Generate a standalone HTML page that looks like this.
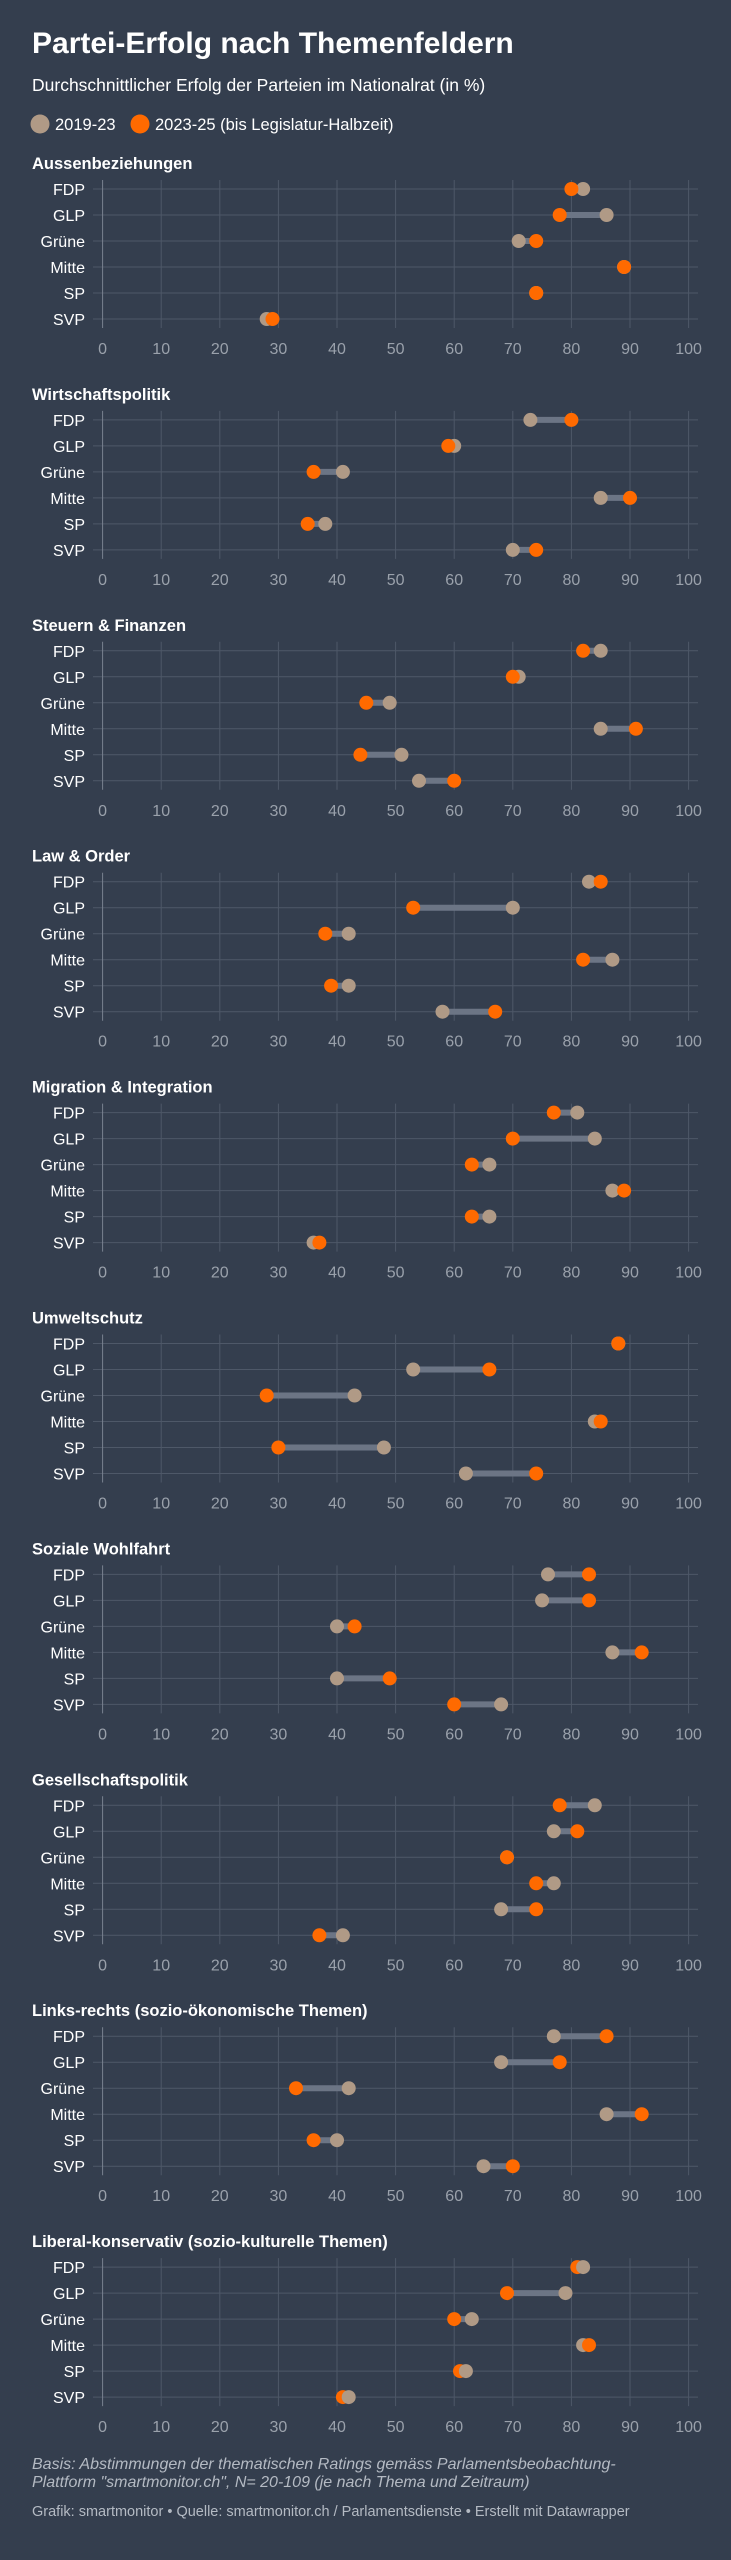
<!DOCTYPE html>
<html><head><meta charset="utf-8"><style>
html,body{margin:0;padding:0;background:#343e4e;}
svg{display:block;font-family:"Liberation Sans",sans-serif;}
.g{stroke:#4e5868;stroke-width:1}
.c{stroke:#6c7585;stroke-width:6}
.o{fill:#ff6a00}.t{fill:#b09a86}
.tl{fill:#fff;font-size:16.5px;font-weight:bold}
.rl{fill:#fff;font-size:16px;text-anchor:end}
.tk{fill:#9aa1ab;font-size:16px;text-anchor:middle}
</style></head><body>
<svg width="731" height="2560" viewBox="0 0 731 2560">
<rect width="731" height="2560" fill="#343e4e"/>
<text x="32" y="53" fill="#fff" font-size="30" font-weight="bold">Partei-Erfolg nach Themenfeldern</text>
<text x="32" y="91" fill="#fff" font-size="17.5">Durchschnittlicher Erfolg der Parteien im Nationalrat (in %)</text>
<circle cx="40" cy="124" r="9.5" class="t"/><text x="55" y="130" fill="#fff" font-size="16.5">2019-23</text>
<circle cx="140" cy="124" r="9.5" class="o"/><text x="155" y="130" fill="#fff" font-size="16.5">2023-25 (bis Legislatur-Halbzeit)</text>
<defs>
<g id="grid">
<line x1="93" x2="698" y1="26" y2="26" class="g"/><line x1="93" x2="698" y1="52" y2="52" class="g"/><line x1="93" x2="698" y1="78" y2="78" class="g"/><line x1="93" x2="698" y1="104" y2="104" class="g"/><line x1="93" x2="698" y1="130" y2="130" class="g"/><line x1="93" x2="698" y1="156" y2="156" class="g"/>
<line x1="102.6" x2="102.6" y1="17" y2="165" stroke="#7a8290"/>
<line x1="161.2" x2="161.2" y1="17" y2="165" class="g"/><line x1="219.8" x2="219.8" y1="17" y2="165" class="g"/><line x1="278.4" x2="278.4" y1="17" y2="165" class="g"/><line x1="337" x2="337" y1="17" y2="165" class="g"/><line x1="395.6" x2="395.6" y1="17" y2="165" class="g"/><line x1="454.2" x2="454.2" y1="17" y2="165" class="g"/><line x1="512.8" x2="512.8" y1="17" y2="165" class="g"/><line x1="571.4" x2="571.4" y1="17" y2="165" class="g"/><line x1="630" x2="630" y1="17" y2="165" class="g"/><line x1="688.6" x2="688.6" y1="17" y2="165" class="g"/>
</g>
</defs>

<g transform="translate(0,163)"><use href="#grid"/>
<text x="32" y="6" class="tl">Aussenbeziehungen</text>
<text x="85" y="32" class="rl">FDP</text><text x="85" y="58" class="rl">GLP</text><text x="85" y="84" class="rl">Grüne</text><text x="85" y="110" class="rl">Mitte</text><text x="85" y="136" class="rl">SP</text><text x="85" y="162" class="rl">SVP</text>
<text x="102.6" y="191" class="tk">0</text><text x="161.2" y="191" class="tk">10</text><text x="219.8" y="191" class="tk">20</text><text x="278.4" y="191" class="tk">30</text><text x="337" y="191" class="tk">40</text><text x="395.6" y="191" class="tk">50</text><text x="454.2" y="191" class="tk">60</text><text x="512.8" y="191" class="tk">70</text><text x="571.4" y="191" class="tk">80</text><text x="630" y="191" class="tk">90</text><text x="688.6" y="191" class="tk">100</text>
<line x1="571.4" x2="583.1" y1="26" y2="26" class="c"/><circle cx="583.1" cy="26" r="7" class="t"/><circle cx="571.4" cy="26" r="7" class="o"/>
<line x1="559.7" x2="606.6" y1="52" y2="52" class="c"/><circle cx="606.6" cy="52" r="7" class="t"/><circle cx="559.7" cy="52" r="7" class="o"/>
<line x1="518.7" x2="536.2" y1="78" y2="78" class="c"/><circle cx="518.7" cy="78" r="7" class="t"/><circle cx="536.2" cy="78" r="7" class="o"/>
<circle cx="624.1" cy="104" r="7" class="t"/><circle cx="624.1" cy="104" r="7" class="o"/>
<circle cx="536.2" cy="130" r="7" class="t"/><circle cx="536.2" cy="130" r="7" class="o"/>
<circle cx="266.7" cy="156" r="7" class="t"/><circle cx="272.5" cy="156" r="7" class="o"/>
</g>

<g transform="translate(0,393.9)"><use href="#grid"/>
<text x="32" y="6" class="tl">Wirtschaftspolitik</text>
<text x="85" y="32" class="rl">FDP</text><text x="85" y="58" class="rl">GLP</text><text x="85" y="84" class="rl">Grüne</text><text x="85" y="110" class="rl">Mitte</text><text x="85" y="136" class="rl">SP</text><text x="85" y="162" class="rl">SVP</text>
<text x="102.6" y="191" class="tk">0</text><text x="161.2" y="191" class="tk">10</text><text x="219.8" y="191" class="tk">20</text><text x="278.4" y="191" class="tk">30</text><text x="337" y="191" class="tk">40</text><text x="395.6" y="191" class="tk">50</text><text x="454.2" y="191" class="tk">60</text><text x="512.8" y="191" class="tk">70</text><text x="571.4" y="191" class="tk">80</text><text x="630" y="191" class="tk">90</text><text x="688.6" y="191" class="tk">100</text>
<line x1="530.4" x2="571.4" y1="26" y2="26" class="c"/><circle cx="530.4" cy="26" r="7" class="t"/><circle cx="571.4" cy="26" r="7" class="o"/>
<circle cx="454.2" cy="52" r="7" class="t"/><circle cx="448.3" cy="52" r="7" class="o"/>
<line x1="313.6" x2="342.9" y1="78" y2="78" class="c"/><circle cx="342.9" cy="78" r="7" class="t"/><circle cx="313.6" cy="78" r="7" class="o"/>
<line x1="600.7" x2="630" y1="104" y2="104" class="c"/><circle cx="600.7" cy="104" r="7" class="t"/><circle cx="630" cy="104" r="7" class="o"/>
<line x1="307.7" x2="325.3" y1="130" y2="130" class="c"/><circle cx="325.3" cy="130" r="7" class="t"/><circle cx="307.7" cy="130" r="7" class="o"/>
<line x1="512.8" x2="536.2" y1="156" y2="156" class="c"/><circle cx="512.8" cy="156" r="7" class="t"/><circle cx="536.2" cy="156" r="7" class="o"/>
</g>

<g transform="translate(0,624.8)"><use href="#grid"/>
<text x="32" y="6" class="tl">Steuern &amp; Finanzen</text>
<text x="85" y="32" class="rl">FDP</text><text x="85" y="58" class="rl">GLP</text><text x="85" y="84" class="rl">Grüne</text><text x="85" y="110" class="rl">Mitte</text><text x="85" y="136" class="rl">SP</text><text x="85" y="162" class="rl">SVP</text>
<text x="102.6" y="191" class="tk">0</text><text x="161.2" y="191" class="tk">10</text><text x="219.8" y="191" class="tk">20</text><text x="278.4" y="191" class="tk">30</text><text x="337" y="191" class="tk">40</text><text x="395.6" y="191" class="tk">50</text><text x="454.2" y="191" class="tk">60</text><text x="512.8" y="191" class="tk">70</text><text x="571.4" y="191" class="tk">80</text><text x="630" y="191" class="tk">90</text><text x="688.6" y="191" class="tk">100</text>
<line x1="583.1" x2="600.7" y1="26" y2="26" class="c"/><circle cx="600.7" cy="26" r="7" class="t"/><circle cx="583.1" cy="26" r="7" class="o"/>
<circle cx="518.7" cy="52" r="7" class="t"/><circle cx="512.8" cy="52" r="7" class="o"/>
<line x1="366.3" x2="389.7" y1="78" y2="78" class="c"/><circle cx="389.7" cy="78" r="7" class="t"/><circle cx="366.3" cy="78" r="7" class="o"/>
<line x1="600.7" x2="635.9" y1="104" y2="104" class="c"/><circle cx="600.7" cy="104" r="7" class="t"/><circle cx="635.9" cy="104" r="7" class="o"/>
<line x1="360.4" x2="401.5" y1="130" y2="130" class="c"/><circle cx="401.5" cy="130" r="7" class="t"/><circle cx="360.4" cy="130" r="7" class="o"/>
<line x1="419" x2="454.2" y1="156" y2="156" class="c"/><circle cx="419" cy="156" r="7" class="t"/><circle cx="454.2" cy="156" r="7" class="o"/>
</g>

<g transform="translate(0,855.7)"><use href="#grid"/>
<text x="32" y="6" class="tl">Law &amp; Order</text>
<text x="85" y="32" class="rl">FDP</text><text x="85" y="58" class="rl">GLP</text><text x="85" y="84" class="rl">Grüne</text><text x="85" y="110" class="rl">Mitte</text><text x="85" y="136" class="rl">SP</text><text x="85" y="162" class="rl">SVP</text>
<text x="102.6" y="191" class="tk">0</text><text x="161.2" y="191" class="tk">10</text><text x="219.8" y="191" class="tk">20</text><text x="278.4" y="191" class="tk">30</text><text x="337" y="191" class="tk">40</text><text x="395.6" y="191" class="tk">50</text><text x="454.2" y="191" class="tk">60</text><text x="512.8" y="191" class="tk">70</text><text x="571.4" y="191" class="tk">80</text><text x="630" y="191" class="tk">90</text><text x="688.6" y="191" class="tk">100</text>
<line x1="589" x2="600.7" y1="26" y2="26" class="c"/><circle cx="589" cy="26" r="7" class="t"/><circle cx="600.7" cy="26" r="7" class="o"/>
<line x1="413.2" x2="512.8" y1="52" y2="52" class="c"/><circle cx="512.8" cy="52" r="7" class="t"/><circle cx="413.2" cy="52" r="7" class="o"/>
<line x1="325.3" x2="348.7" y1="78" y2="78" class="c"/><circle cx="348.7" cy="78" r="7" class="t"/><circle cx="325.3" cy="78" r="7" class="o"/>
<line x1="583.1" x2="612.4" y1="104" y2="104" class="c"/><circle cx="612.4" cy="104" r="7" class="t"/><circle cx="583.1" cy="104" r="7" class="o"/>
<line x1="331.1" x2="348.7" y1="130" y2="130" class="c"/><circle cx="348.7" cy="130" r="7" class="t"/><circle cx="331.1" cy="130" r="7" class="o"/>
<line x1="442.5" x2="495.2" y1="156" y2="156" class="c"/><circle cx="442.5" cy="156" r="7" class="t"/><circle cx="495.2" cy="156" r="7" class="o"/>
</g>

<g transform="translate(0,1086.6)"><use href="#grid"/>
<text x="32" y="6" class="tl">Migration &amp; Integration</text>
<text x="85" y="32" class="rl">FDP</text><text x="85" y="58" class="rl">GLP</text><text x="85" y="84" class="rl">Grüne</text><text x="85" y="110" class="rl">Mitte</text><text x="85" y="136" class="rl">SP</text><text x="85" y="162" class="rl">SVP</text>
<text x="102.6" y="191" class="tk">0</text><text x="161.2" y="191" class="tk">10</text><text x="219.8" y="191" class="tk">20</text><text x="278.4" y="191" class="tk">30</text><text x="337" y="191" class="tk">40</text><text x="395.6" y="191" class="tk">50</text><text x="454.2" y="191" class="tk">60</text><text x="512.8" y="191" class="tk">70</text><text x="571.4" y="191" class="tk">80</text><text x="630" y="191" class="tk">90</text><text x="688.6" y="191" class="tk">100</text>
<line x1="553.8" x2="577.3" y1="26" y2="26" class="c"/><circle cx="577.3" cy="26" r="7" class="t"/><circle cx="553.8" cy="26" r="7" class="o"/>
<line x1="512.8" x2="594.8" y1="52" y2="52" class="c"/><circle cx="594.8" cy="52" r="7" class="t"/><circle cx="512.8" cy="52" r="7" class="o"/>
<line x1="471.8" x2="489.4" y1="78" y2="78" class="c"/><circle cx="489.4" cy="78" r="7" class="t"/><circle cx="471.8" cy="78" r="7" class="o"/>
<line x1="612.4" x2="624.1" y1="104" y2="104" class="c"/><circle cx="612.4" cy="104" r="7" class="t"/><circle cx="624.1" cy="104" r="7" class="o"/>
<line x1="471.8" x2="489.4" y1="130" y2="130" class="c"/><circle cx="489.4" cy="130" r="7" class="t"/><circle cx="471.8" cy="130" r="7" class="o"/>
<circle cx="313.6" cy="156" r="7" class="t"/><circle cx="319.4" cy="156" r="7" class="o"/>
</g>

<g transform="translate(0,1317.5)"><use href="#grid"/>
<text x="32" y="6" class="tl">Umweltschutz</text>
<text x="85" y="32" class="rl">FDP</text><text x="85" y="58" class="rl">GLP</text><text x="85" y="84" class="rl">Grüne</text><text x="85" y="110" class="rl">Mitte</text><text x="85" y="136" class="rl">SP</text><text x="85" y="162" class="rl">SVP</text>
<text x="102.6" y="191" class="tk">0</text><text x="161.2" y="191" class="tk">10</text><text x="219.8" y="191" class="tk">20</text><text x="278.4" y="191" class="tk">30</text><text x="337" y="191" class="tk">40</text><text x="395.6" y="191" class="tk">50</text><text x="454.2" y="191" class="tk">60</text><text x="512.8" y="191" class="tk">70</text><text x="571.4" y="191" class="tk">80</text><text x="630" y="191" class="tk">90</text><text x="688.6" y="191" class="tk">100</text>
<circle cx="618.3" cy="26" r="7" class="t"/><circle cx="618.3" cy="26" r="7" class="o"/>
<line x1="413.2" x2="489.4" y1="52" y2="52" class="c"/><circle cx="413.2" cy="52" r="7" class="t"/><circle cx="489.4" cy="52" r="7" class="o"/>
<line x1="266.7" x2="354.6" y1="78" y2="78" class="c"/><circle cx="354.6" cy="78" r="7" class="t"/><circle cx="266.7" cy="78" r="7" class="o"/>
<circle cx="594.8" cy="104" r="7" class="t"/><circle cx="600.7" cy="104" r="7" class="o"/>
<line x1="278.4" x2="383.9" y1="130" y2="130" class="c"/><circle cx="383.9" cy="130" r="7" class="t"/><circle cx="278.4" cy="130" r="7" class="o"/>
<line x1="465.9" x2="536.2" y1="156" y2="156" class="c"/><circle cx="465.9" cy="156" r="7" class="t"/><circle cx="536.2" cy="156" r="7" class="o"/>
</g>

<g transform="translate(0,1548.4)"><use href="#grid"/>
<text x="32" y="6" class="tl">Soziale Wohlfahrt</text>
<text x="85" y="32" class="rl">FDP</text><text x="85" y="58" class="rl">GLP</text><text x="85" y="84" class="rl">Grüne</text><text x="85" y="110" class="rl">Mitte</text><text x="85" y="136" class="rl">SP</text><text x="85" y="162" class="rl">SVP</text>
<text x="102.6" y="191" class="tk">0</text><text x="161.2" y="191" class="tk">10</text><text x="219.8" y="191" class="tk">20</text><text x="278.4" y="191" class="tk">30</text><text x="337" y="191" class="tk">40</text><text x="395.6" y="191" class="tk">50</text><text x="454.2" y="191" class="tk">60</text><text x="512.8" y="191" class="tk">70</text><text x="571.4" y="191" class="tk">80</text><text x="630" y="191" class="tk">90</text><text x="688.6" y="191" class="tk">100</text>
<line x1="548" x2="589" y1="26" y2="26" class="c"/><circle cx="548" cy="26" r="7" class="t"/><circle cx="589" cy="26" r="7" class="o"/>
<line x1="542.1" x2="589" y1="52" y2="52" class="c"/><circle cx="542.1" cy="52" r="7" class="t"/><circle cx="589" cy="52" r="7" class="o"/>
<line x1="337" x2="354.6" y1="78" y2="78" class="c"/><circle cx="337" cy="78" r="7" class="t"/><circle cx="354.6" cy="78" r="7" class="o"/>
<line x1="612.4" x2="641.7" y1="104" y2="104" class="c"/><circle cx="612.4" cy="104" r="7" class="t"/><circle cx="641.7" cy="104" r="7" class="o"/>
<line x1="337" x2="389.7" y1="130" y2="130" class="c"/><circle cx="337" cy="130" r="7" class="t"/><circle cx="389.7" cy="130" r="7" class="o"/>
<line x1="454.2" x2="501.1" y1="156" y2="156" class="c"/><circle cx="501.1" cy="156" r="7" class="t"/><circle cx="454.2" cy="156" r="7" class="o"/>
</g>

<g transform="translate(0,1779.3)"><use href="#grid"/>
<text x="32" y="6" class="tl">Gesellschaftspolitik</text>
<text x="85" y="32" class="rl">FDP</text><text x="85" y="58" class="rl">GLP</text><text x="85" y="84" class="rl">Grüne</text><text x="85" y="110" class="rl">Mitte</text><text x="85" y="136" class="rl">SP</text><text x="85" y="162" class="rl">SVP</text>
<text x="102.6" y="191" class="tk">0</text><text x="161.2" y="191" class="tk">10</text><text x="219.8" y="191" class="tk">20</text><text x="278.4" y="191" class="tk">30</text><text x="337" y="191" class="tk">40</text><text x="395.6" y="191" class="tk">50</text><text x="454.2" y="191" class="tk">60</text><text x="512.8" y="191" class="tk">70</text><text x="571.4" y="191" class="tk">80</text><text x="630" y="191" class="tk">90</text><text x="688.6" y="191" class="tk">100</text>
<line x1="559.7" x2="594.8" y1="26" y2="26" class="c"/><circle cx="594.8" cy="26" r="7" class="t"/><circle cx="559.7" cy="26" r="7" class="o"/>
<line x1="553.8" x2="577.3" y1="52" y2="52" class="c"/><circle cx="553.8" cy="52" r="7" class="t"/><circle cx="577.3" cy="52" r="7" class="o"/>
<circle cx="507" cy="78" r="7" class="t"/><circle cx="507" cy="78" r="7" class="o"/>
<line x1="536.2" x2="553.8" y1="104" y2="104" class="c"/><circle cx="553.8" cy="104" r="7" class="t"/><circle cx="536.2" cy="104" r="7" class="o"/>
<line x1="501.1" x2="536.2" y1="130" y2="130" class="c"/><circle cx="501.1" cy="130" r="7" class="t"/><circle cx="536.2" cy="130" r="7" class="o"/>
<line x1="319.4" x2="342.9" y1="156" y2="156" class="c"/><circle cx="342.9" cy="156" r="7" class="t"/><circle cx="319.4" cy="156" r="7" class="o"/>
</g>

<g transform="translate(0,2010.2)"><use href="#grid"/>
<text x="32" y="6" class="tl">Links-rechts (sozio-ökonomische Themen)</text>
<text x="85" y="32" class="rl">FDP</text><text x="85" y="58" class="rl">GLP</text><text x="85" y="84" class="rl">Grüne</text><text x="85" y="110" class="rl">Mitte</text><text x="85" y="136" class="rl">SP</text><text x="85" y="162" class="rl">SVP</text>
<text x="102.6" y="191" class="tk">0</text><text x="161.2" y="191" class="tk">10</text><text x="219.8" y="191" class="tk">20</text><text x="278.4" y="191" class="tk">30</text><text x="337" y="191" class="tk">40</text><text x="395.6" y="191" class="tk">50</text><text x="454.2" y="191" class="tk">60</text><text x="512.8" y="191" class="tk">70</text><text x="571.4" y="191" class="tk">80</text><text x="630" y="191" class="tk">90</text><text x="688.6" y="191" class="tk">100</text>
<line x1="553.8" x2="606.6" y1="26" y2="26" class="c"/><circle cx="553.8" cy="26" r="7" class="t"/><circle cx="606.6" cy="26" r="7" class="o"/>
<line x1="501.1" x2="559.7" y1="52" y2="52" class="c"/><circle cx="501.1" cy="52" r="7" class="t"/><circle cx="559.7" cy="52" r="7" class="o"/>
<line x1="296" x2="348.7" y1="78" y2="78" class="c"/><circle cx="348.7" cy="78" r="7" class="t"/><circle cx="296" cy="78" r="7" class="o"/>
<line x1="606.6" x2="641.7" y1="104" y2="104" class="c"/><circle cx="606.6" cy="104" r="7" class="t"/><circle cx="641.7" cy="104" r="7" class="o"/>
<line x1="313.6" x2="337" y1="130" y2="130" class="c"/><circle cx="337" cy="130" r="7" class="t"/><circle cx="313.6" cy="130" r="7" class="o"/>
<line x1="483.5" x2="512.8" y1="156" y2="156" class="c"/><circle cx="483.5" cy="156" r="7" class="t"/><circle cx="512.8" cy="156" r="7" class="o"/>
</g>

<g transform="translate(0,2241.1)"><use href="#grid"/>
<text x="32" y="6" class="tl">Liberal-konservativ (sozio-kulturelle Themen)</text>
<text x="85" y="32" class="rl">FDP</text><text x="85" y="58" class="rl">GLP</text><text x="85" y="84" class="rl">Grüne</text><text x="85" y="110" class="rl">Mitte</text><text x="85" y="136" class="rl">SP</text><text x="85" y="162" class="rl">SVP</text>
<text x="102.6" y="191" class="tk">0</text><text x="161.2" y="191" class="tk">10</text><text x="219.8" y="191" class="tk">20</text><text x="278.4" y="191" class="tk">30</text><text x="337" y="191" class="tk">40</text><text x="395.6" y="191" class="tk">50</text><text x="454.2" y="191" class="tk">60</text><text x="512.8" y="191" class="tk">70</text><text x="571.4" y="191" class="tk">80</text><text x="630" y="191" class="tk">90</text><text x="688.6" y="191" class="tk">100</text>
<circle cx="577.3" cy="26" r="7" class="o"/><circle cx="583.1" cy="26" r="7" class="t"/>
<line x1="507" x2="565.5" y1="52" y2="52" class="c"/><circle cx="565.5" cy="52" r="7" class="t"/><circle cx="507" cy="52" r="7" class="o"/>
<line x1="454.2" x2="471.8" y1="78" y2="78" class="c"/><circle cx="471.8" cy="78" r="7" class="t"/><circle cx="454.2" cy="78" r="7" class="o"/>
<circle cx="583.1" cy="104" r="7" class="t"/><circle cx="589" cy="104" r="7" class="o"/>
<circle cx="460" cy="130" r="7" class="o"/><circle cx="465.9" cy="130" r="7" class="t"/>
<circle cx="342.9" cy="156" r="7" class="o"/><circle cx="348.7" cy="156" r="7" class="t"/>
</g>

<text x="32" y="2469" fill="#b4bac3" font-size="16" font-style="italic">Basis: Abstimmungen der thematischen Ratings gemäss Parlamentsbeobachtung-</text>
<text x="32" y="2487" fill="#b4bac3" font-size="16" font-style="italic">Plattform "smartmonitor.ch", N= 20-109 (je nach Thema und Zeitraum)</text>
<text x="32" y="2516" fill="#b4bac3" font-size="14.5">Grafik: smartmonitor • Quelle: smartmonitor.ch / Parlamentsdienste • Erstellt mit Datawrapper</text>
</svg>
</body></html>
